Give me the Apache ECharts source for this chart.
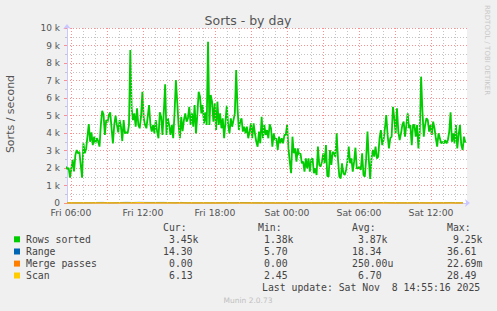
<!DOCTYPE html>
<html><head><meta charset="utf-8">
<script src="https://cdn.jsdelivr.net/npm/echarts@6/dist/echarts.min.js"></script>
<style>html,body{margin:0;padding:0;background:#f0f0f0;}#c{width:497px;height:311px;}</style>
</head><body><div id="c"></div>
<script>
// time in minutes from Fri 00:00
const rowsStart = 335, rowsStep = 6.7;
const rowsSorted = [
2080,1940,2000,1450,1980,2460,1800,2740,3030,2840,2930,2170,1450,3410,2840,3090,3790,4510,3500,4040,3310,3790,3410,3700,3540,3220,4460,5260,5070,3890,4740,4610,5030,5180,4270,3410,4460,4990,4460,4040,4740,4360,3540,4740,3980,4040,3980,4460,8740,5410,
4740,5120,4360,5410,4460,4270,4930,6360,4840,4460,4270,4930,5600,4460,4080,4460,3980,4740,4080,3700,5180,4930,3890,5220,6780,3890,4840,4460,3890,4460,3700,5120,7030,5790,4460,3700,4930,4110,4740,5120,4650,4840,5500,4460,5120,4360,5600,3980,5030,6360,
6080,5120,5600,4550,5180,4460,9220,4460,6170,5790,4650,5700,4170,5790,4460,5120,4270,4840,3700,4650,5560,4460,3980,4840,4360,4740,5120,7600,5410,4170,4650,4840,4080,4360,3980,4360,3700,4080,4550,3700,4550,3980,3500,3220,4080,3410,4930,3700,4460,3890,
4170,3700,4500,4270,3220,3980,3600,3700,3030,3790,3410,3700,3410,3890,3890,4460,3120,2360,1700,3790,2840,3120,2360,3120,2740,2840,2270,2360,1790,2550,1980,2550,1790,2460,2550,1700,1980,1600,3220,2170,2080,2360,2840,2270,3310,1540,1500,3030,2170,2930,
2840,2650,3980,2460,1500,1410,2270,1700,1600,1890,2360,3220,2270,2550,1790,2360,3160,1980,1980,2080,1890,2840,1600,1500,2550,4080,2460,1380,2550,3030,2650,3220,2550,2650,3700,4170,3310,3600,4270,5030,3890,3120,3700,3790,5500,4840,3980,5410,4080,3600,
3980,4460,4650,3790,4460,5120,4270,4460,3310,4460,4460,3790,4460,3120,4080,7220,5220,3790,4460,4840,4740,4080,4460,3890,4650,4270,3700,3220,3980,3700,3410,3500,3410,3600,3410,3600,4080,5180,3500,3980,3410,4460,3120,3890,4460,3310,3030,3790,3450
];
const auxStart = 340, auxStep = 30;
const range = [14,15,12,16,18,31,33,17,20,30,34,29,36,32,30,31,33,28,19,32,17,15,14,16,13,15,18,20,16,30,22,15,12,10,9,8,7,6,6,7,9,8,10,12,14,16,12,18,20,17,15,19,24,32,21,17,16,14,19,20,15,18,16,17,31,14,14];
const mergePasses = [0,0,0,0,0,0,0,0,0,0,0,0,0,0,0,0,0,0,0,0,0,0,0,0,0,0,0,0,0,0,0,0,0,0,0,0,0,0,0,0,0,0,0,0,0,0,0,0,0,0,0,0,0,0,0,0,0,0,0,0,0,0,0,0,0,0,0];
const scan = [5,6,7,6,8,9,7,10,8,7,6,9,28,8,7,6,7,8,6,5,6,7,6,5,4,4,3,3,3,4,3,3,2,3,3,4,5,4,3,4,5,6,7,6,8,7,9,8,10,12,9,8,7,10,9,8,7,8,6,7,9,8,7,6,7,6,6];
const xTickLabels = [[360,'Fri 06:00'],[720,'Fri 12:00'],[1080,'Fri 18:00'],[1440,'Sat 00:00'],[1800,'Sat 06:00'],[2160,'Sat 12:00']];
const legendNames = ['Rows sorted','Range','Merge passes','Scan'];
const legendColors = ['#00cc00','#0066b3','#ff8000','#ffcc00'];
const curVals = ['3.45k','14.30','0.00','6.13'];
const minVals = ['1.38k','5.70','0.00','2.45'];
const avgVals = ['3.87k','18.34','250.00u','6.70'];
const maxVals = ['9.25k','36.61','22.69m','28.49'];
const xMin = 340, xMax = 2340;

const rowsData = rowsSorted.map((v,i)=>[rowsStart + i*rowsStep, v]);
const aux = arr => arr.map((v,i)=>[auxStart + i*auxStep, v]);

const RED = '#ff8f8f', GRAY = '#c4c4c4';
const DASH = [1,2];
// half-pixel (2.5 min) shift so the 1px dotted grid lines land on a pixel column
const HALF_PX_MIN = (xMax - xMin) / 400 / 2;
const vLines = [];
for (let m = 360; m < xMax; m += 60) {
  const major = (m % 180) === 0;
  vLines.push({xAxis: m + HALF_PX_MIN, lineStyle: {color: major ? RED : GRAY, type: DASH, width: 1, opacity: 1}});
}

const mono = 'DejaVu Sans Mono';
const g = [];
function txt(x,y,text,opt){
  opt = opt||{};
  g.push({type:'text', x:x, y:y, rotation: opt.rot||0, silent:true,
    style:{text:text, fill: opt.fill||'#444', font: (opt.size||9.8)+'px "'+(opt.family||mono)+'"',
      align: opt.align||'left', verticalAlign:'middle'}});
}
txt(248,20,'Sorts - by day',{family:'DejaVu Sans',size:12.5,align:'center',fill:'#555'});
txt(10.5,114,'Sorts / second',{family:'DejaVu Sans',size:11,align:'center',fill:'#555',rot:Math.PI/2});
txt(487,5,'RRDTOOL / TOBI OETIKER',{family:'DejaVu Sans',size:7,align:'left',fill:'#c8c8c8',rot:-Math.PI/2});
const rowY = [239.3,251.5,263.6,275.5];
txt(163,227.7,'Cur:'); txt(258,227.7,'Min:'); txt(352,227.7,'Avg:'); txt(447,227.7,'Max:');
const colX = [[169,163,169,169],[264,264,264,264],[358,352,352,358],[453,447,447,447]];
const cols = [curVals,minVals,avgVals,maxVals];
legendNames.forEach((n,i)=>{
  g.push({type:'rect', silent:true, shape:{x:14,y:rowY[i]-3,width:6,height:6}, style:{fill:legendColors[i]}});
  txt(26,rowY[i],n);
  cols.forEach((c,j)=>txt(colX[j][i],rowY[i],c[i]));
});
txt(262,287.7,'Last update: Sat Nov  8 14:55:16 2025');
txt(248,300.3,'Munin 2.0.73',{family:'DejaVu Sans',size:7.5,align:'center',fill:'#c0c0c0'});

const chart = echarts.init(document.getElementById('c'), null, {renderer:'svg'});
chart.setOption({
  animation:false,
  backgroundColor:'#f0f0f0',
  grid:{left:67,right:30,top:28,bottom:108,show:true,backgroundColor:'#ffffff',borderWidth:0},
  xAxis:{type:'value',min:xMin,max:xMax,
    splitLine:{show:false},
    axisTick:{show:false},
    axisLine:{show:true,onZero:false,lineStyle:{color:'#c8c8ff',width:1},symbol:['none','arrow'],symbolSize:[6,5],symbolOffset:[0,3]},
    axisLabel:{customValues:xTickLabels.map(d=>d[0]),
      formatter:v=>{const f=xTickLabels.find(d=>d[0]===v);return f?f[1]:'';},
      fontFamily:'DejaVu Sans',fontSize:9.3,color:'#555',margin:5}},
  yAxis:{type:'value',min:0,max:10000,interval:1000,
    axisLine:{show:true,lineStyle:{color:'#c8c8ff',width:1},symbol:['none','arrow'],symbolSize:[6,5],symbolOffset:[0,4]},
    axisTick:{show:true,length:3,lineStyle:{color:RED}},
    minorTick:{show:true,splitNumber:2,length:2,lineStyle:{color:GRAY}},
    minorSplitLine:{show:true,lineStyle:{color:GRAY,type:DASH}},
    splitLine:{show:true,lineStyle:{color:RED,type:DASH}},
    axisLabel:{formatter:v=>v===0?'0':(v/1000)+' k',fontFamily:'DejaVu Sans',fontSize:9,color:'#555',margin:7}},
  graphic:g,
  series:[
    {type:'line',data:[],z:1,silent:true,
     markLine:{silent:true,symbol:['none','none'],label:{show:false},animation:false,data:vLines}},
    {name:'Rows sorted',type:'line',data:rowsData,showSymbol:false,z:3,clip:true,
     lineStyle:{color:'#00cc00',width:1.8},itemStyle:{color:'#00cc00'}},
    {name:'Range',type:'line',data:aux(range),showSymbol:false,z:4,clip:false,
     lineStyle:{color:'#0066b3',width:1},itemStyle:{color:'#0066b3'}},
    {name:'Merge passes',type:'line',data:aux(mergePasses),showSymbol:false,z:5,clip:false,
     lineStyle:{color:'#ff8000',width:1},itemStyle:{color:'#ff8000'}},
    {name:'Scan',type:'line',data:aux(scan),showSymbol:false,z:6,clip:false,
     lineStyle:{color:'#ffcc00',width:1},itemStyle:{color:'#ffcc00'}}
  ]
});
</script></body></html>
